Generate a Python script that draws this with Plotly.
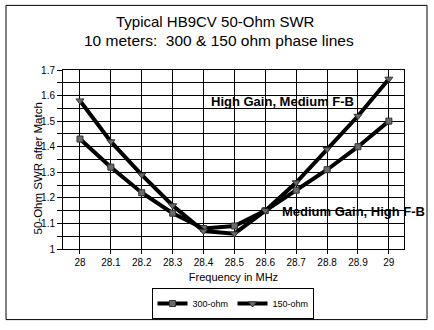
import plotly.graph_objects as go

# Frequency points (MHz) and measured SWR for the two phase-line impedances
freq_mhz = [28.0, 28.1, 28.2, 28.3, 28.4, 28.5, 28.6, 28.7, 28.8, 28.9, 29.0]
swr_300 = [1.43, 1.32, 1.22, 1.14, 1.08, 1.09, 1.15, 1.23, 1.31, 1.40, 1.50]
swr_150 = [1.58, 1.42, 1.29, 1.17, 1.07, 1.06, 1.15, 1.26, 1.39, 1.52, 1.665]

x_tick_vals = [28.0, 28.1, 28.2, 28.3, 28.4, 28.5, 28.6, 28.7, 28.8, 28.9, 29.0]
x_tick_text = ["28", "28.1", "28.2", "28.3", "28.4", "28.5", "28.6", "28.7", "28.8", "28.9", "29"]
y_tick_vals = [1.0, 1.1, 1.2, 1.3, 1.4, 1.5, 1.6, 1.7]
y_tick_text = ["1", "1.1", "1.2", "1.3", "1.4", "1.5", "1.6", "1.7"]

FONT = "Liberation Sans, Arial, sans-serif"

# Plot area in pixels: x 63..404, y 70..250
PX_L, PX_R, PX_T, PX_B = 63, 404, 70, 250


def px_x(px):
    return (px - PX_L) / (PX_R - PX_L)


def px_y(py):
    return (PX_B - py) / (PX_B - PX_T)


fig = go.Figure()
fig.add_trace(go.Scatter(
    x=freq_mhz, y=swr_300, name="300-ohm", mode="lines+markers",
    line=dict(color="black", width=4),
    marker=dict(symbol="square", size=6, color="#6a6a6a", line=dict(color="#333", width=1)),
))
fig.add_trace(go.Scatter(
    x=freq_mhz, y=swr_150, name="150-ohm", mode="lines+markers",
    line=dict(color="black", width=4),
    marker=dict(symbol="triangle-down", size=7, color="#6a6a6a", line=dict(color="#333", width=1)),
))

# Outer chart frame
fig.add_shape(type="rect", xref="paper", yref="paper",
              x0=px_x(6), x1=px_x(427), y0=px_y(321), y1=px_y(5),
              line=dict(color="black", width=1), fillcolor="rgba(0,0,0,0)", layer="below")

fig.add_annotation(text="Typical HB9CV 50-Ohm SWR", xref="paper", yref="paper",
                   x=px_x(215), y=px_y(21), showarrow=False,
                   font=dict(family=FONT, size=15, color="black"), xanchor="center", yanchor="middle")
fig.add_annotation(text="10 meters:  300 &amp; 150 ohm phase lines", xref="paper", yref="paper",
                   x=px_x(219), y=px_y(40), showarrow=False,
                   font=dict(family=FONT, size=15.5, color="black"), xanchor="center", yanchor="middle")

# Y axis title
fig.add_annotation(text="50-Ohm SWR after Match", xref="paper", yref="paper",
                   x=px_x(38), y=px_y(169), textangle=-90, showarrow=False,
                   font=dict(family=FONT, size=11.5, color="black"), xanchor="center", yanchor="middle")

fig.add_annotation(text="<b>High Gain, Medium F-B</b>", x=28.419, y=1.5755, xanchor="left",
                   yanchor="middle", showarrow=False, font=dict(family=FONT, size=13, color="black"))
fig.add_annotation(text="<b>Medium Gain, High F-B</b>", x=28.649, y=1.1475, xanchor="left",
                   yanchor="middle", showarrow=False, font=dict(family=FONT, size=13, color="black"))

fig.update_layout(
    width=434, height=330,
    margin=dict(l=PX_L, r=434 - PX_R, t=PX_T, b=330 - PX_B),
    paper_bgcolor="white", plot_bgcolor="white",
    font=dict(family=FONT, size=10, color="black"),
    showlegend=True,
    legend=dict(orientation="h", x=px_x(232.5), xanchor="center", y=px_y(288),
                yanchor="top", bordercolor="black", borderwidth=1, bgcolor="white",
                font=dict(family=FONT, size=9), itemwidth=30, tracegroupgap=0,
                entrywidth=35, entrywidthmode="pixels"),
)
fig.update_xaxes(
    range=[27.945, 29.049], tickvals=x_tick_vals, ticktext=x_tick_text,
    showgrid=True, gridcolor="black", gridwidth=1,
    showline=True, linecolor="black", linewidth=1, mirror=True,
    ticks="outside", ticklen=4, tickcolor="black", zeroline=False,
    title=dict(text="Frequency in MHz", font=dict(family=FONT, size=11), standoff=6),
    tickfont=dict(family=FONT, size=10),
)
fig.update_yaxes(
    range=[1.0, 1.7], tickvals=y_tick_vals, ticktext=y_tick_text,
    showgrid=True, gridcolor="black", gridwidth=1,
    minor=dict(dtick=0.05, tick0=1.0, showgrid=True, gridcolor="black", gridwidth=1,
               ticks="outside", ticklen=5, tickcolor="black"),
    showline=True, linecolor="black", linewidth=1, mirror=True,
    ticks="outside", ticklen=5, tickcolor="black", zeroline=False,
    tickfont=dict(family=FONT, size=10),
)

fig.write_html("out.html")
